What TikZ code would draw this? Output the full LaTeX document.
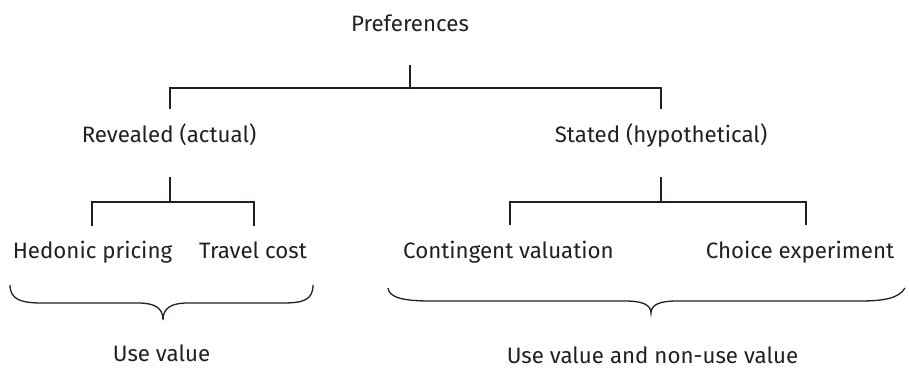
\documentclass[tikz,border=0pt]{standalone}
\usepackage{fontspec}
\setmainfont{Fira Sans}
\definecolor{ink}{HTML}{231F20}
\begin{document}
\begin{tikzpicture}[x=1pt,y=-1pt,
  lbl/.style={font=\fontsize{22.3}{26}\selectfont, text=ink, inner sep=0pt, anchor=base},
  tree/.style={draw=ink, line width=1.5pt},
  brc/.style={draw=ink, line width=1.3pt}]
\useasboundingbox (0,0) rectangle (909,369);
% text nodes
\node[lbl] (pref) at (410,32) {Preferences};
\node[lbl] (rev) at (169,142) {Revealed (actual)};
\node[lbl] (sta) at (661,142) {Stated (hypothetical)};
\node[lbl] (hed) at (92.5,258) {Hedonic pricing};
\node[lbl] (tra) at (253,258) {Travel cost};
\node[lbl] (con) at (508.5,258) {Contingent valuation};
\node[lbl] (cho) at (800,258) {Choice experiment};
\node[lbl] (use) at (161.5,361) {Use value};
\node[lbl] (usn) at (652.5,363) {Use value and non-use value};
% junction coordinates
\coordinate (t0) at (410,65);
\coordinate (t1) at (410,88);
\coordinate (rt) at (170,109);
\coordinate (st) at (661,109);
\coordinate (r0) at (170,177);
\coordinate (r1) at (170,202);
\coordinate (hd) at (92,226);
\coordinate (tc) at (254,226);
\coordinate (s0) at (661,177);
\coordinate (s1) at (661,202);
\coordinate (cv) at (510,225);
\coordinate (ce) at (806,225);
% tree connectors
\draw[tree] (t0) -- (t1);
\draw[tree] (rt) |- (t1) -| (st);
\draw[tree] (r0) -- (r1);
\draw[tree] (hd) |- (r1) -| (tc);
\draw[tree] (s0) -- (s1);
\draw[tree] (cv) |- (s1) -| (ce);
% braces
\draw[brc] (10,285) .. controls (10,300) and (22,303) .. (42,303) -- (138,303)
  .. controls (155,303) and (163,308) .. (163,320)
  .. controls (163,308) and (171,303) .. (188,303) -- (283,303)
  .. controls (303,303) and (313,300) .. (313,285);
\draw[brc] (388,288) .. controls (389,298) and (405,301) .. (430,301) -- (625,301)
  .. controls (643,301) and (651,305) .. (651,313)
  .. controls (651,305) and (659,301) .. (677,301) -- (860,301)
  .. controls (885,301) and (899,298) .. (905,288);
\end{tikzpicture}
\end{document}
